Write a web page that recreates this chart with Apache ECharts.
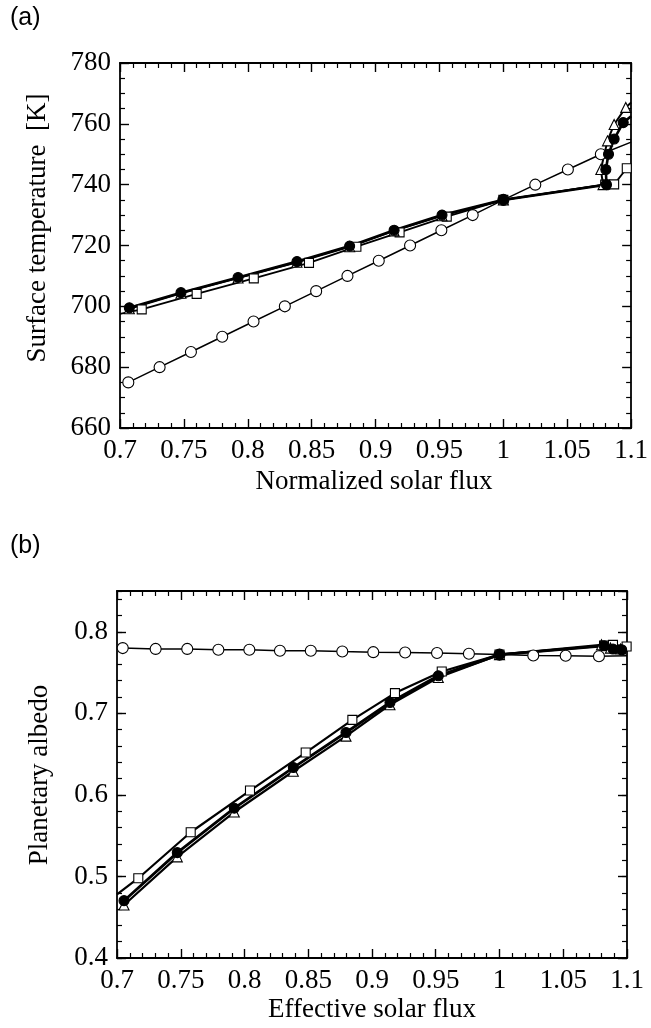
<!DOCTYPE html>
<html>
<head>
<meta charset="utf-8">
<script src="https://cdn.jsdelivr.net/npm/echarts@6/dist/echarts.min.js"></script>
<style>
html, body { margin: 0; background: #fff; }
#main { width: 651px; height: 1028px; }
</style>
</head>
<body>
<div id="main"></div>
<script>
// panel (a): surface temperature [K] vs normalized solar flux
var openFluxA = [0.7065, 0.731, 0.7555, 0.78, 0.8045, 0.829, 0.8535, 0.878, 0.9025, 0.927, 0.9515, 0.976, 1.0, 1.025, 1.0505, 1.0763, 1.1];
var openTempA = [675, 680, 685, 690, 695, 700, 705, 710, 715, 720, 725, 730, 735, 740, 745, 750, 754];

var filledFluxA = [0.7073, 0.7477, 0.7924, 0.8385, 0.8797, 0.9145, 0.952, 1.0, 1.0807, 1.0802, 1.0823, 1.0867, 1.0938, 1.1];
var filledTempA = [699.5, 704.5, 709.5, 714.7, 719.8, 725, 730, 735, 740, 745, 750, 755, 760.4, 762.5];

var triFluxA = [0.7073, 0.7477, 0.7924, 0.8385, 0.8797, 0.9145, 0.952, 1.0, 1.078, 1.0763, 1.0815, 1.0867, 1.0958, 1.1];
var triTempA = [699.2, 704.3, 709.3, 714.5, 719.6, 724.8, 729.8, 735, 740, 745, 754.4, 759.8, 765.4, 767];

var sqFluxA = [0.7, 0.717, 0.76, 0.8047, 0.8479, 0.885, 0.9188, 0.9557, 1.0, 1.0797, 1.0867, 1.0966, 1.1];
var sqTempA = [697.5, 699, 704.1, 709.2, 714.3, 719.6, 724.3, 729.5, 735, 740, 740.1, 745.4, 746.5];

// panel (b): planetary albedo vs effective solar flux
var openFluxB = [0.7045, 0.7303, 0.7551, 0.7795, 0.8038, 0.8278, 0.852, 0.8767, 0.901, 0.926, 0.951, 0.976, 1.0, 1.0265, 1.0519, 1.078, 1.1];
var openAlbB = [0.780, 0.779, 0.779, 0.778, 0.778, 0.7767, 0.7767, 0.7758, 0.775, 0.7745, 0.774, 0.773, 0.772, 0.771, 0.7706, 0.770, 0.7705];

var filledFluxB = [0.7055, 0.7473, 0.792, 0.8383, 0.8796, 0.9141, 0.952, 1.0, 1.082, 1.089, 1.0958, 1.1];
var filledAlbB = [0.4703, 0.5292, 0.5837, 0.6335, 0.6765, 0.7133, 0.746, 0.772, 0.7828, 0.7788, 0.778, 0.779];

var triFluxB = [0.7055, 0.7473, 0.792, 0.8383, 0.8796, 0.9141, 0.952, 1.0, 1.08, 1.087, 1.095, 1.1];
var triAlbB = [0.465, 0.524, 0.579, 0.629, 0.672, 0.7105, 0.744, 0.772, 0.784, 0.780, 0.779, 0.7785];

var sqFluxB = [0.7, 0.7167, 0.7578, 0.8043, 0.848, 0.8846, 0.918, 0.9547, 1.0, 1.082, 1.089, 1.0997];
var sqAlbB = [0.478, 0.4978, 0.5542, 0.6053, 0.6519, 0.692, 0.7248, 0.7513, 0.772, 0.783, 0.784, 0.782];

var serif = "'Liberation Serif', 'DejaVu Serif', serif";
var sans = "'Liberation Sans', Arial, sans-serif";
var labelSize = 27;

function pairs(xs, ys) {
    return xs.map(function (x, i) { return [x, ys[i]]; });
}

// hide markers of points that sit on the plot edges
function edgeSymbol(shape) {
    return function (v) {
        return (v[0] <= 0.7 || v[0] >= 1.1) ? 'none' : shape;
    };
}

function xAxisOf(grid, pos, withLabels) {
    return {
        type: 'value', gridIndex: grid, position: pos,
        min: 0.7, max: 1.1, interval: 0.05,
        axisLine: { show: true, onZero: false, lineStyle: { color: '#000', width: 1.8 } },
        axisTick: { show: true, inside: true, length: 9, lineStyle: { color: '#000', width: 1.4 } },
        minorTick: { show: true, splitNumber: 5, length: 5, lineStyle: { color: '#000', width: 1.2 } },
        splitLine: { show: false },
        axisLabel: { show: withLabels, margin: 9, color: '#000', fontFamily: serif, fontSize: labelSize }
    };
}

function yAxisOf(grid, pos, min, max, step, minorSplit, withLabels, maxLabel) {
    return {
        type: 'value', gridIndex: grid, position: pos,
        min: min, max: max, interval: step,
        axisLine: { show: true, onZero: false, lineStyle: { color: '#000', width: 1.8 } },
        axisTick: { show: true, inside: true, length: 9, lineStyle: { color: '#000', width: 1.4 } },
        minorTick: { show: minorSplit > 0, splitNumber: minorSplit, length: 5, lineStyle: { color: '#000', width: 1.2 } },
        splitLine: { show: false },
        axisLabel: { show: withLabels, showMaxLabel: maxLabel, margin: 9, color: '#000', fontFamily: serif, fontSize: labelSize }
    };
}

// minor ticks only (albedo axis, whose top interval is partial)
function yMinorOf(grid, pos) {
    return {
        type: 'value', gridIndex: grid, position: pos,
        min: 0.4, max: 0.85, interval: 0.02,
        axisLine: { show: false },
        axisTick: { show: true, inside: true, length: 5, lineStyle: { color: '#000', width: 1.2 } },
        splitLine: { show: false },
        axisLabel: { show: false }
    };
}

function lineSeries(x, y, xs, ys, shape, fill, size, width) {
    return {
        type: 'line', xAxisIndex: x, yAxisIndex: y,
        data: pairs(xs, ys),
        symbol: edgeSymbol(shape), symbolSize: size,
        showAllSymbol: true, clip: true, animation: false,
        lineStyle: { color: '#000', width: width },
        itemStyle: { color: fill, borderColor: '#000', borderWidth: 1.1 }
    };
}

var option = {
    backgroundColor: '#fff',
    animation: false,
    grid: [
        { left: 120, top: 63, width: 512, height: 365 },
        { left: 117, top: 591, width: 510, height: 367 }
    ],
    xAxis: [
        xAxisOf(0, 'bottom', true),
        xAxisOf(0, 'top', false),
        xAxisOf(1, 'bottom', true),
        xAxisOf(1, 'top', false)
    ],
    yAxis: [
        yAxisOf(0, 'left', 660, 780, 20, 4, true, true),
        yAxisOf(0, 'right', 660, 780, 20, 4, false, true),
        yAxisOf(1, 'left', 0.4, 0.85, 0.1, 0, true, false),
        yAxisOf(1, 'right', 0.4, 0.85, 0.1, 0, false, false),
        yMinorOf(1, 'left'),
        yMinorOf(1, 'right')
    ],
    series: [
        lineSeries(0, 0, openFluxA, openTempA, 'circle', '#fff', 11, 1.5),
        lineSeries(0, 0, sqFluxA, sqTempA, 'rect', '#fff', 9, 1.8),
        lineSeries(0, 0, triFluxA, triTempA, 'triangle', '#fff', 10, 2),
        lineSeries(0, 0, filledFluxA, filledTempA, 'circle', '#000', 10, 2.6),
        lineSeries(2, 2, openFluxB, openAlbB, 'circle', '#fff', 11, 1.5),
        lineSeries(2, 2, sqFluxB, sqAlbB, 'rect', '#fff', 9, 2.2),
        lineSeries(2, 2, triFluxB, triAlbB, 'triangle', '#fff', 10, 2.2),
        lineSeries(2, 2, filledFluxB, filledAlbB, 'circle', '#000', 10, 2.8)
    ],
    graphic: [
        { type: 'text', left: 10, top: 6, style: { text: '(a)', font: '25px ' + sans, fill: '#000' } },
        { type: 'text', left: 10, top: 534, style: { text: '(b)', font: '25px ' + sans, fill: '#000' } },
        { type: 'text', x: 374, y: 482, style: { text: 'Normalized solar flux', font: labelSize + 'px ' + serif, fill: '#000', align: 'center', verticalAlign: 'middle' } },
        { type: 'text', x: 372, y: 1010, style: { text: 'Effective solar flux', font: labelSize + 'px ' + serif, fill: '#000', align: 'center', verticalAlign: 'middle' } },
        { type: 'text', x: 38, y: 228, rotation: Math.PI / 2, style: { text: 'Surface temperature  [K]', font: labelSize + 'px ' + serif, fill: '#000', align: 'center', verticalAlign: 'middle' } },
        { type: 'text', x: 40, y: 775, rotation: Math.PI / 2, style: { text: 'Planetary albedo', font: labelSize + 'px ' + serif, fill: '#000', align: 'center', verticalAlign: 'middle' } }
    ]
};

var chart = echarts.init(document.getElementById('main'));
chart.setOption(option);
</script>
</body>
</html>
